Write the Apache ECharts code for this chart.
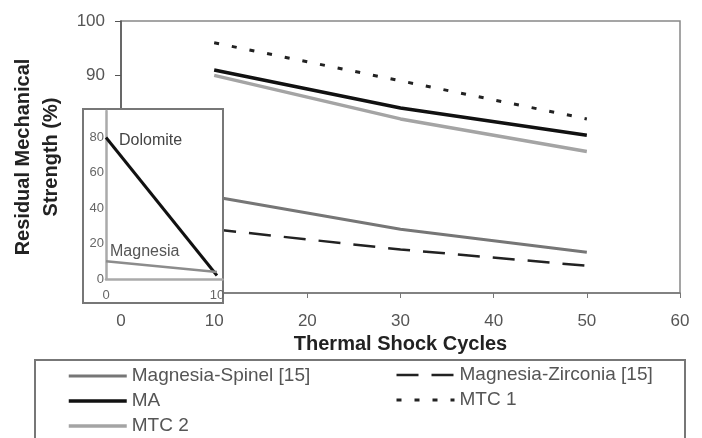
<!DOCTYPE html>
<html>
<head>
<meta charset="utf-8">
<script src="https://cdn.jsdelivr.net/npm/echarts@6/dist/echarts.min.js"></script>
<style>
  html, body { margin: 0; padding: 0; background: #fff; }
  #chart { width: 702px; height: 438px; }
</style>
</head>
<body>
<div id="chart"></div>
<script>
// main plot
const cycles = [10, 30, 50]
const spinel = [67.7, 61.7, 57.5]
const zirconia = [61.7, 58, 55]
const ma = [91, 84, 79]
const mtc1 = [96, 89, 82]
const mtc2 = [90, 82, 76]
// inset
const insetCycles = [0, 10]
const dolomite = [80, 2]
const magnesia = [10, 4]

const font = 'Liberation Sans, Arial, sans-serif'
const pairs = (xs, ys) => xs.map((x, i) => [x, ys[i]])

const legendBase = {
  orient: 'vertical',
  padding: 0,
  itemWidth: 58,
  itemHeight: 14,
  itemGap: 5,
  itemStyle: { opacity: 0 },
  lineStyle: { width: 'inherit' },
  textStyle: { fontSize: 19, color: '#555', lineHeight: 20, fontFamily: font },
}

const chart = echarts.init(document.getElementById('chart'))

chart.setOption({
  backgroundColor: '#fff',
  animation: false,
  textStyle: { fontFamily: font },
  grid: [
    { left: 121, top: 21, right: 22, bottom: 145, show: true, borderColor: '#888', borderWidth: 1.5 },
    { left: 106, top: 111, width: 116.5, height: 168 },
  ],
  xAxis: [
    {
      gridIndex: 0,
      type: 'value',
      min: 0,
      max: 60,
      interval: 10,
      name: 'Thermal Shock Cycles',
      nameLocation: 'middle',
      nameGap: 40,
      nameTextStyle: { fontSize: 20, fontWeight: 'bold', color: '#222', fontFamily: font },
      axisLine: { lineStyle: { color: '#777', width: 1.5 } },
      axisTick: { inside: false, length: 5, lineStyle: { color: '#777' } },
      axisLabel: { fontSize: 17, color: '#555', margin: 20 },
      splitLine: { show: false },
    },
    {
      gridIndex: 1,
      type: 'value',
      min: 0,
      max: 10.5,
      interval: 10,
      z: 110,
      axisLine: { lineStyle: { color: '#aaa', width: 2.5 } },
      axisTick: { show: false },
      axisLabel: { fontSize: 13, color: '#666', margin: 10, showMaxLabel: false },
      splitLine: { show: false },
    },
  ],
  yAxis: [
    {
      gridIndex: 0,
      type: 'value',
      min: 50,
      max: 100,
      interval: 10,
      name: 'Residual Mechanical\nStrength (%)',
      nameLocation: 'middle',
      nameGap: 53,
      nameTextStyle: { fontSize: 20, fontWeight: 'bold', color: '#222', lineHeight: 28, fontFamily: font },
      axisLine: { show: true, lineStyle: { color: '#555', width: 1.5 } },
      axisTick: { show: true, inside: false, length: 6, lineStyle: { color: '#555' } },
      axisLabel: { fontSize: 17, color: '#555', margin: 16 },
      splitLine: { show: false },
    },
    {
      gridIndex: 1,
      type: 'value',
      min: 0,
      max: 95,
      interval: 20,
      z: 110,
      axisLine: { show: true, lineStyle: { color: '#aaa', width: 2.5 } },
      axisTick: { show: false },
      axisLabel: { fontSize: 13, color: '#666', margin: 2, showMaxLabel: false },
      splitLine: { show: false },
    },
  ],
  legend: [
    Object.assign({}, legendBase, {
      left: 67,
      top: 366,
      data: ['Magnesia-Spinel [15]', 'MA', 'MTC 2'],
    }),
    Object.assign({}, legendBase, {
      left: 395,
      top: 365,
      data: ['Magnesia-Zirconia [15]', 'MTC 1'],
    }),
  ],
  graphic: [
    {
      type: 'rect',
      z: 100,
      shape: { x: 83, y: 109, width: 140, height: 194 },
      style: { fill: '#fff', stroke: '#777', lineWidth: 2 },
    },
    {
      type: 'rect',
      z: 1,
      shape: { x: 35, y: 360, width: 650, height: 100 },
      style: { fill: 'none', stroke: '#777', lineWidth: 2 },
    },
  ],
  series: [
    {
      name: 'Magnesia-Spinel [15]',
      type: 'line',
      symbol: 'none',
      data: pairs(cycles, spinel),
      lineStyle: { color: '#767676', width: 3 },
      itemStyle: { color: '#767676' },
    },
    {
      name: 'Magnesia-Zirconia [15]',
      type: 'line',
      symbol: 'none',
      data: pairs(cycles, zirconia),
      lineStyle: { color: '#222', width: 2.5, type: [22, 13] },
      itemStyle: { color: '#222' },
    },
    {
      name: 'MA',
      type: 'line',
      symbol: 'none',
      data: pairs(cycles, ma),
      lineStyle: { color: '#111', width: 3.5 },
      itemStyle: { color: '#111' },
    },
    {
      name: 'MTC 1',
      type: 'line',
      symbol: 'none',
      data: pairs(cycles, mtc1),
      lineStyle: { color: '#222', width: 3, type: [5, 13] },
      itemStyle: { color: '#222' },
    },
    {
      name: 'MTC 2',
      type: 'line',
      symbol: 'none',
      data: pairs(cycles, mtc2),
      lineStyle: { color: '#a4a4a4', width: 3.5 },
      itemStyle: { color: '#a4a4a4' },
    },
    {
      name: 'Dolomite',
      type: 'line',
      xAxisIndex: 1,
      yAxisIndex: 1,
      z: 120,
      symbol: 'circle',
      symbolSize: 0,
      data: pairs(insetCycles, dolomite).map((p, i) =>
        i === 0
          ? { value: p, label: { show: true, formatter: 'Dolomite', position: 'right', offset: [8, 3], fontSize: 16, color: '#444' } }
          : p
      ),
      lineStyle: { color: '#111', width: 3 },
      itemStyle: { color: '#111' },
    },
    {
      name: 'Magnesia',
      type: 'line',
      xAxisIndex: 1,
      yAxisIndex: 1,
      z: 120,
      symbol: 'circle',
      symbolSize: 0,
      data: pairs(insetCycles, magnesia).map((p, i) =>
        i === 0
          ? { value: p, label: { show: true, formatter: 'Magnesia', position: 'right', offset: [-1, -10], fontSize: 16, color: '#555' } }
          : p
      ),
      lineStyle: { color: '#8c8c8c', width: 2.5 },
      itemStyle: { color: '#8c8c8c' },
    },
  ],
})
</script>
</body>
</html>
